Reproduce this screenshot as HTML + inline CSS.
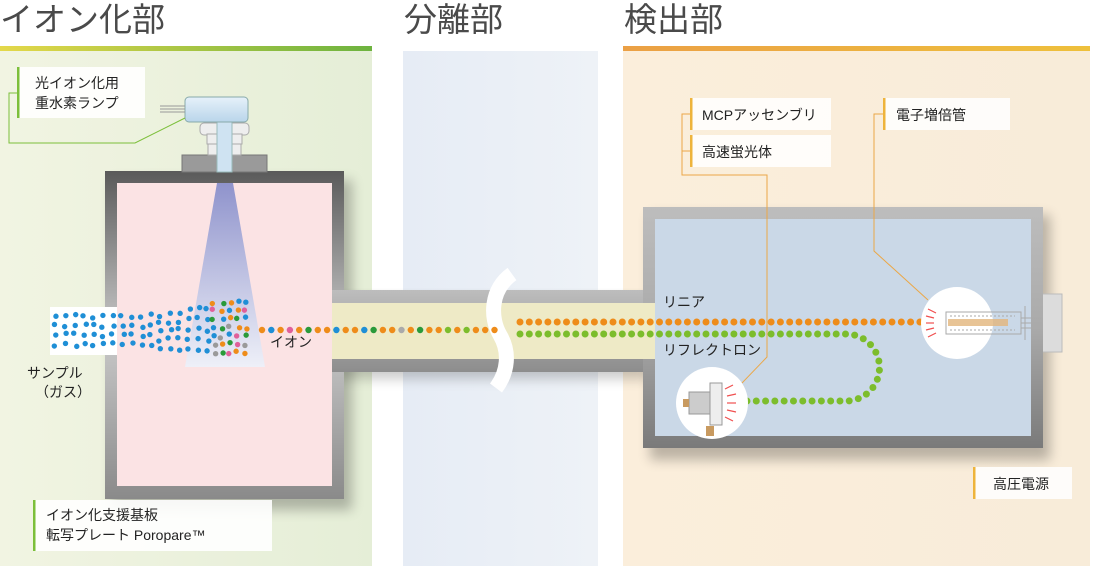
<!DOCTYPE html>
<html><head><meta charset="utf-8"><style>
html,body{margin:0;padding:0;background:#fff;}
body{width:1096px;height:566px;overflow:hidden;position:relative;font-family:"Liberation Sans","Noto Sans CJK JP",sans-serif;}
svg{position:absolute;left:0;top:0}
text{font-family:"Liberation Sans","Noto Sans CJK JP",sans-serif;}
</style></head><body>
<svg width="1096" height="566" viewBox="0 0 1096 566" xmlns="http://www.w3.org/2000/svg">
<defs>
<linearGradient id="gbar" x1="0" x2="1"><stop offset="0" stop-color="#e4d84a"/><stop offset="1" stop-color="#6db33f"/></linearGradient>
<linearGradient id="obar" x1="0" x2="1"><stop offset="0" stop-color="#eba045"/><stop offset="1" stop-color="#eec03c"/></linearGradient>
<linearGradient id="gpan" x1="0" x2="1"><stop offset="0" stop-color="#f1f4e2"/><stop offset="1" stop-color="#e5eed7"/></linearGradient>
<linearGradient id="bpan" x1="0" x2="1"><stop offset="0" stop-color="#e6ecf5"/><stop offset="1" stop-color="#eef2f7"/></linearGradient>
<linearGradient id="opan" x1="0" x2="1"><stop offset="0" stop-color="#fbeedb"/><stop offset="1" stop-color="#f8ecd9"/></linearGradient>
<linearGradient id="beam" x1="0" y1="0" x2="0" y2="1"><stop offset="0" stop-color="#8f93cc"/><stop offset="1" stop-color="#eef0f8"/></linearGradient>
<linearGradient id="wall" x1="0" y1="0" x2="0" y2="1"><stop offset="0" stop-color="#5a5a5a"/><stop offset="0.5" stop-color="#c9c9c9"/><stop offset="1" stop-color="#8a8a8a"/></linearGradient>
<linearGradient id="dwall" x1="0" y1="0" x2="0" y2="1"><stop offset="0" stop-color="#bdbdbd"/><stop offset="0.5" stop-color="#aaaaaa"/><stop offset="1" stop-color="#7a7a7a"/></linearGradient>
<linearGradient id="tube" x1="0" y1="0" x2="0" y2="1"><stop offset="0" stop-color="#bdbdbd"/><stop offset="1" stop-color="#8d8d8d"/></linearGradient>
<linearGradient id="lamp" x1="0" y1="0" x2="0" y2="1"><stop offset="0" stop-color="#e6f1fa"/><stop offset="1" stop-color="#b9d5ea"/></linearGradient>
<filter id="sh" x="-10%" y="-10%" width="130%" height="130%"><feGaussianBlur stdDeviation="6"/></filter>
</defs>
<rect x="0" y="51" width="372" height="515" fill="url(#gpan)"/>
<rect x="0" y="46" width="372" height="5" fill="url(#gbar)"/>
<rect x="403" y="51" width="195" height="515" fill="url(#bpan)"/>
<rect x="623" y="51" width="467" height="515" fill="url(#opan)"/>
<rect x="623" y="46" width="467" height="5" fill="url(#obar)"/>
<text x="0" y="31" font-size="33" fill="#4a4a4a">イオン化部</text>
<text x="404" y="31" font-size="33" fill="#4a4a4a">分離部</text>
<text x="624" y="31" font-size="33" fill="#4a4a4a">検出部</text>

<rect x="112" y="180" width="240" height="330" fill="#000" opacity="0.25" filter="url(#sh)"/>
<rect x="650" y="215" width="400" height="245" fill="#000" opacity="0.25" filter="url(#sh)"/>
<rect x="340" y="297" width="310" height="82" fill="#000" opacity="0.2" filter="url(#sh)"/>

<rect x="105" y="171" width="239" height="328" fill="url(#wall)"/>
<rect x="117" y="183" width="215" height="303" fill="#fbe3e4"/>
<rect x="332" y="290" width="323" height="82" fill="url(#tube)"/>
<rect x="332" y="303" width="323" height="56" fill="#eeeac6"/>
<rect x="1040" y="294" width="22" height="58" fill="#dcdcdc" stroke="#bbb"/>
<rect x="643" y="207" width="400" height="241" fill="url(#dwall)"/>
<rect x="655" y="219" width="376" height="217" fill="#cad8e7"/>
<rect x="643" y="303" width="12" height="56" fill="#eeeac6"/>
<rect x="50" y="307" width="67" height="48" fill="#fff"/>
<rect x="117" y="307" width="4" height="48" fill="#fbe3e4"/>
<polygon points="217,183 233,183 265,367 185,367" fill="url(#beam)"/>
<rect x="182" y="155" width="85" height="17" fill="#9a9a9a" stroke="#777"/>
<rect x="200" y="123" width="49" height="12" rx="4" fill="#eee" stroke="#aaa"/>
<rect x="207" y="134" width="35" height="10" fill="#eee" stroke="#aaa"/>
<rect x="208" y="144" width="33" height="11" fill="#eee" stroke="#aaa"/>
<rect x="217" y="120" width="15" height="52" fill="#cfe3f2" stroke="#9bb"/>
<rect x="185" y="97" width="63" height="25" rx="4" fill="url(#lamp)" stroke="#8aa"/>
<line x1="160" y1="106" x2="185" y2="106" stroke="#999"/><line x1="160" y1="109" x2="185" y2="109" stroke="#999"/><line x1="160" y1="112" x2="185" y2="112" stroke="#999"/>

<path d="M512 274 C490 290,490 318,500 335 C510 352,508 372,496 388" stroke="#fff" stroke-width="15" fill="none"/>

<g id="dots"></g>
<line x1="520" y1="322" x2="922" y2="322" stroke="#ee8c1a" stroke-width="7" stroke-linecap="round" stroke-dasharray="0 9.3"/>
<path d="M520 334 L846 334 A33.5 33.5 0 0 1 846 401 L743 401" stroke="#7cbd2c" stroke-width="7" fill="none" stroke-linecap="round" stroke-dasharray="0 9.3"/>

<circle cx="957" cy="323" r="36" fill="#fff"/>
<g stroke="#aaa" stroke-width="1" fill="none">
<rect x="946" y="312" width="75" height="22"/>
<line x1="950" y1="316" x2="1015" y2="316" stroke-dasharray="2 2"/>
<line x1="950" y1="330" x2="1015" y2="330" stroke-dasharray="2 2"/>
<line x1="1021" y1="318" x2="1042" y2="318"/><line x1="1021" y1="323" x2="1042" y2="323"/><line x1="1021" y1="328" x2="1042" y2="328"/>
<line x1="1025" y1="306" x2="1025" y2="340"/>
</g>
<rect x="948" y="319" width="60" height="7" fill="#e2b57c" opacity="0.8"/>
<g stroke="#f05050" stroke-width="1.2">
<line x1="928" y1="309" x2="936" y2="313"/><line x1="926" y1="316" x2="934" y2="318"/><line x1="926" y1="323" x2="934" y2="323"/><line x1="926" y1="330" x2="934" y2="328"/><line x1="928" y1="337" x2="936" y2="333"/>
</g>
<circle cx="712" cy="403" r="36" fill="#fff"/>
<rect x="689" y="392" width="21" height="22" fill="#ccc" stroke="#999"/>
<rect x="710" y="383" width="12" height="42" fill="#eee" stroke="#999"/>
<rect x="683" y="399" width="6" height="8" fill="#c89a60"/>
<rect x="706" y="426" width="8" height="10" fill="#c89a60"/>
<g stroke="#f05050" stroke-width="1.2">
<line x1="725" y1="389" x2="733" y2="385"/><line x1="727" y1="396" x2="736" y2="394"/><line x1="727" y1="403" x2="736" y2="403"/><line x1="727" y1="410" x2="736" y2="412"/><line x1="725" y1="417" x2="733" y2="421"/>
</g>

<text x="270" y="347" font-size="14" fill="#222">イオン</text>
<text x="663" y="307" font-size="14" fill="#222">リニア</text>
<text x="663" y="355" font-size="14" fill="#222">リフレクトロン</text>
<text x="27" y="378" font-size="14" fill="#222">サンプル</text>
<text x="35" y="397" font-size="14" fill="#222">（ガス）</text>

<polyline points="17,93 9,93 9,143 135,143 185,118" fill="none" stroke="#7cbf3a" stroke-width="1"/>
<rect x="19" y="67" width="126" height="51" fill="#fff" opacity="0.9"/>
<rect x="17" y="67" width="2.5" height="51" fill="#7cbf3a"/>
<text x="35" y="88" font-size="14" fill="#222">光イオン化用</text>
<text x="35" y="108" font-size="14" fill="#222">重水素ランプ</text>

<rect x="35" y="500" width="237" height="51" fill="#fff" opacity="0.9"/>
<rect x="33" y="500" width="2.5" height="51" fill="#7cbf3a"/>
<text x="46" y="520" font-size="14" fill="#222">イオン化支援基板</text>
<text x="46" y="540" font-size="14" fill="#222">転写プレート Poropare™</text>

<polyline points="690,114 682,114 682,175 767,175 767,357 742,383" fill="none" stroke="#eba747" stroke-width="1"/>
<line x1="682" y1="151" x2="690" y2="151" stroke="#eba747"/>
<rect x="692" y="98" width="139" height="32" fill="#fff" opacity="0.85"/>
<rect x="690" y="98" width="2.5" height="32" fill="#eeb43c"/>
<text x="702" y="120" font-size="14" fill="#222">MCPアッセンブリ</text>
<rect x="692" y="135" width="139" height="32" fill="#fff" opacity="0.85"/>
<rect x="690" y="135" width="2.5" height="32" fill="#eeb43c"/>
<text x="702" y="157" font-size="14" fill="#222">高速蛍光体</text>

<polyline points="883,114 874,114 874,251 928,300" fill="none" stroke="#eba747" stroke-width="1"/>
<rect x="885" y="98" width="125" height="32" fill="#fff" opacity="0.85"/>
<rect x="883" y="98" width="2.5" height="32" fill="#eeb43c"/>
<text x="896" y="120" font-size="14" fill="#222">電子増倍管</text>

<rect x="975" y="467" width="97" height="32" fill="#fff" opacity="0.85"/>
<rect x="973" y="467" width="2.5" height="32" fill="#eeb43c"/>
<text x="993" y="489" font-size="14" fill="#222">高圧電源</text>
</svg>
<script>
(function(){
var g=document.getElementById('dots'),ns='http://www.w3.org/2000/svg';
function c(x,y,col,rr){var e=document.createElementNS(ns,'circle');e.setAttribute('cx',x);e.setAttribute('cy',y);e.setAttribute('r',rr||2.7);e.setAttribute('fill',col);g.appendChild(e);}
var s=7;function r(){s=(s*9301+49297)%233280;return s/233280;}
var blue='#1f8fd6';
for(var x=54;x<212;x+=9.5){var n=4+(x>150?1:0);var top=314-(x>150?(x-150)*0.15:0);var step=(38+(x>150?(x-150)*0.3:0))/n;for(var k=0;k<n;k++){c(x+r()*4,top+k*step+r()*4,blue);}}
var cols=['#ee8c1a','#1f8fd6','#e0609a','#2a9a3a','#9a9a9a','#7cbd2c','#ee8c1a','#ee8c1a','#1f8fd6'];
for(var x=212;x<252;x+=8){for(var k=0;k<7;k++){c(x+r()*4,300+k*8.5+r()*4,cols[Math.floor(r()*cols.length)]);}}
var line=['#ee8c1a','#1f8fd6','#ee8c1a','#e0609a','#ee8c1a','#2a9a3a','#ee8c1a','#ee8c1a','#1f8fd6','#ee8c1a','#ee8c1a','#1f8fd6','#2a9a3a','#ee8c1a','#ee8c1a','#aaaaaa','#ee8c1a','#2a9a3a','#ee8c1a','#ee8c1a','#7cbd2c','#ee8c1a','#7cbd2c','#ee8c1a','#ee8c1a','#ee8c1a'];
for(var i=0;i<line.length;i++){c(262+i*9.3,330,line[i],3.2);}
})();
</script>
</body></html>
